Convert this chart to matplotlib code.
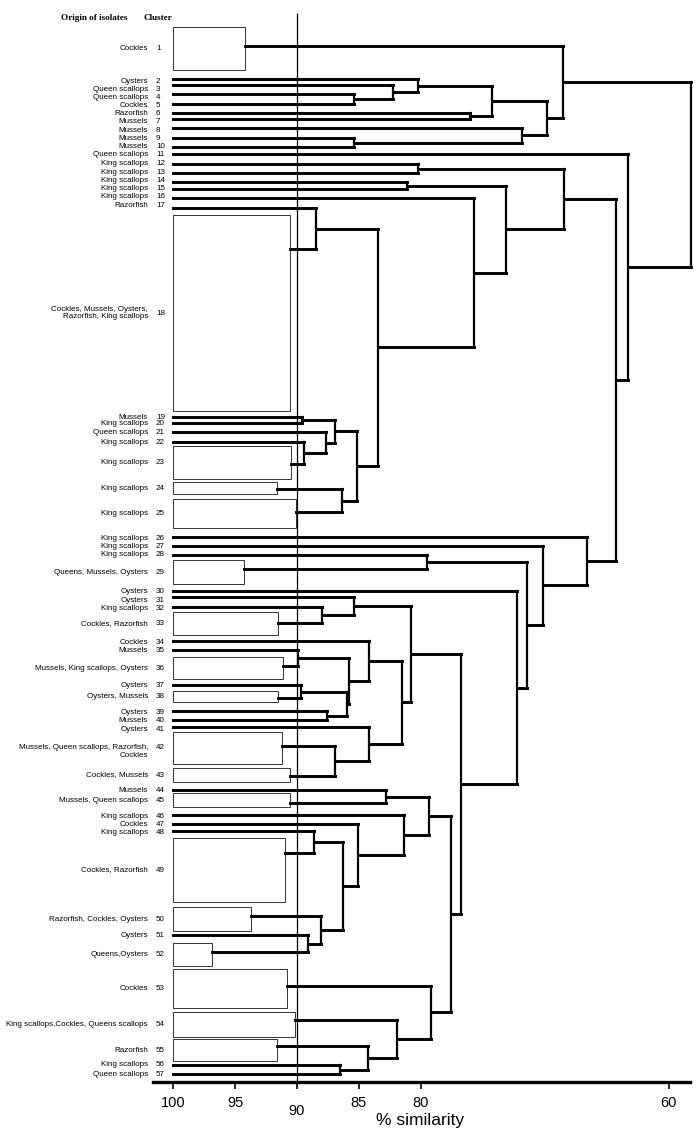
import matplotlib
matplotlib.use("Agg")
import matplotlib.pyplot as plt
from matplotlib.patches import Rectangle
import matplotlib.transforms as mtransforms

plt.rcParams['font.family'] = ['Liberation Sans', 'DejaVu Sans']

# -----------------------------
# Datos: clusters (hojas del dendrograma)
# -----------------------------
cluster_ids = list(range(1, 58))
origins = [
    "Cockles", "Oysters", "Queen scallops", "Queen scallops", "Cockles", "Razorfish",
    "Mussels", "Mussels", "Mussels", "Mussels", "Queen scallops", "King scallops",
    "King scallops", "King scallops", "King scallops", "King scallops", "Razorfish",
    "Cockles, Mussels, Oysters,\nRazorfish, King scallops",
    "Mussels", "King scallops", "Queen scallops", "King scallops", "King scallops",
    "King scallops", "King scallops", "King scallops", "King scallops", "King scallops",
    "Queens, Mussels, Oysters", "Oysters", "Oysters", "King scallops", "Cockles, Razorfish",
    "Cockles", "Mussels", "Mussels, King scallops, Oysters", "Oysters", "Oysters, Mussels",
    "Oysters", "Mussels", "Oysters", "Mussels, Queen scallops, Razorfish,\nCockles",
    "Cockles, Mussels", "Mussels", "Mussels, Queen scallops", "King scallops", "Cockles",
    "King scallops", "Cockles, Razorfish", "Razorfish, Cockles, Oysters", "Oysters",
    "Queens,Oysters", "Cockles", "King scallops,Cockles, Queens scallops", "Razorfish",
    "King scallops", "Queen scallops",
]

# % similitud interna de los clusters con varios aislados (cajas)
box_similarity = {
    1: 94.2, 18: 90.6, 23: 90.5, 24: 91.6, 25: 90.1, 29: 94.25, 33: 91.5, 36: 91.15,
    38: 91.5, 42: 91.2, 43: 90.6, 45: 90.6, 49: 90.95, 50: 93.75, 52: 96.9, 53: 90.8,
    54: 90.15, 55: 91.6,
}

# Uniones (nodo nuevo, hijo a, hijo b, % similitud)
merges = [
    ("n4_5", 4, 5, 85.4),
    ("n3_5", 3, "n4_5", 82.25),
    ("n2_5", 2, "n3_5", 80.2),
    ("n6_7", 6, 7, 76.05),
    ("n2_7", "n2_5", "n6_7", 74.25),
    ("n9_10", 9, 10, 85.4),
    ("n8_10", 8, "n9_10", 71.8),
    ("n2_10", "n2_7", "n8_10", 69.85),
    ("n1_10", 1, "n2_10", 68.55),
    ("n12_13", 12, 13, 80.2),
    ("n14_15", 14, 15, 81.15),
    ("n17_18", 17, 18, 88.5),
    ("n19_20", 19, 20, 89.6),
    ("n22_23", 22, 23, 89.4),
    ("n21_23", 21, "n22_23", 87.7),
    ("n19_23", "n19_20", "n21_23", 86.9),
    ("n24_25", 24, 25, 86.35),
    ("n19_25", "n19_23", "n24_25", 85.15),
    ("n17_25", "n17_18", "n19_25", 83.45),
    ("n16_25", 16, "n17_25", 75.75),
    ("n14_25", "n14_15", "n16_25", 73.15),
    ("n12_25", "n12_13", "n14_25", 68.45),
    ("n28_29", 28, 29, 79.5),
    ("n32_33", 32, 33, 88.0),
    ("n31_33", 31, "n32_33", 85.4),
    ("n35_36", 35, 36, 89.9),
    ("n37_38", 37, 38, 89.65),
    ("n39_40", 39, 40, 87.6),
    ("n37_40", "n37_38", "n39_40", 86.0),
    ("n35_40", "n35_36", "n37_40", 85.8),
    ("n34_40", 34, "n35_40", 84.2),
    ("n42_43", 42, 43, 86.95),
    ("n41_43", 41, "n42_43", 84.15),
    ("n34_43", "n34_40", "n41_43", 81.55),
    ("n31_43", "n31_33", "n34_43", 80.8),
    ("n44_45", 44, 45, 82.85),
    ("n48_49", 48, 49, 88.6),
    ("n51_52", 51, 52, 89.1),
    ("n50_52", 50, "n51_52", 88.05),
    ("n48_52", "n48_49", "n50_52", 86.25),
    ("n47_52", 47, "n48_52", 85.1),
    ("n46_52", 46, "n47_52", 81.35),
    ("n44_52", "n44_45", "n46_52", 79.35),
    ("n56_57", 56, 57, 86.5),
    ("n55_57", 55, "n56_57", 84.3),
    ("n54_57", 54, "n55_57", 81.95),
    ("n53_57", 53, "n54_57", 79.2),
    ("n44_57", "n44_52", "n53_57", 77.6),
    ("n31_57", "n31_43", "n44_57", 76.75),
    ("n30_57", 30, "n31_57", 72.25),
    ("n28_57", "n28_29", "n30_57", 71.45),
    ("n27_57", 27, "n28_57", 70.1),
    ("n26_57", 26, "n27_57", 66.55),
    ("n12_57", "n12_25", "n26_57", 64.25),
    ("n11_57", 11, "n12_57", 63.3),
    ("root", "n1_10", "n11_57", 58.15),
]

similarity_ticks = [100, 95, 90, 85, 80, 60]

# -----------------------------
# Layout vertical (filas de la figura, en pixeles)
# -----------------------------
row_y = {
    2: 79, 3: 85, 4: 94, 5: 104, 6: 113, 7: 119, 8: 128, 9: 138, 10: 147, 11: 154,
    12: 164, 13: 173, 14: 182, 15: 189, 16: 198, 17: 208, 19: 417, 20: 423, 21: 432,
    22: 442, 26: 537, 27: 546, 28: 555, 30: 591, 31: 597, 32: 607, 34: 641, 35: 650,
    37: 685, 39: 711, 40: 720, 41: 727, 44: 790, 46: 815, 47: 824, 48: 831, 51: 935,
    56: 1065, 57: 1074,
}
text_y = {
    2: 81, 3: 89.5, 4: 97.5, 5: 105.5, 6: 113.5, 7: 121.5, 8: 130, 9: 138, 10: 146.5,
    11: 154.5, 12: 163.5, 13: 172, 14: 180.5, 15: 188, 16: 196.5, 17: 205,
    26: 538, 27: 546, 28: 554.5, 30: 591.5, 31: 600, 32: 608.5, 34: 642, 35: 650.5,
    39: 712, 40: 720.5, 41: 729, 46: 816.5, 47: 824.5, 48: 832.5,
}
box_span = {
    1: (27, 70), 18: (215, 411), 23: (446, 479), 24: (482, 494), 25: (499, 528),
    29: (560, 584), 33: (612, 635), 36: (657, 679), 38: (691, 702), 42: (732, 764),
    43: (768, 782), 45: (793, 807), 49: (838, 902), 50: (907, 931), 52: (943, 966),
    53: (969, 1008), 54: (1012, 1037), 55: (1039, 1061),
}
box_link = {
    1: 46, 18: 249, 23: 464, 24: 489, 25: 512, 29: 569, 33: 623, 36: 666, 38: 698,
    42: 746, 43: 776, 45: 803, 49: 853, 50: 916, 52: 952, 53: 986, 54: 1020, 55: 1046,
}

# -----------------------------
# Figura
# -----------------------------
fig = plt.figure(figsize=(6.98, 11.38), dpi=100)
ax = fig.add_axes([0, 0, 1, 1])
ax.set_xlim(113.99, 57.62)
ax.set_ylim(1138, 0)

H_LW = 2.1
V_LW = 1.6
NAME_X = 102.03
NUM_X = 101.39

pos = {}
for cid, origin in zip(cluster_ids, origins):
    if cid in box_similarity:
        top, bot = box_span[cid]
        s = box_similarity[cid]
        ax.add_patch(Rectangle((s, top), 100 - s, bot - top, fill=False,
                               lw=0.7, ec="#333333"))
        pos[cid] = (s, box_link[cid])
        ly = (top + bot) / 2
    else:
        pos[cid] = (100, row_y[cid])
        ly = text_y.get(cid, row_y[cid])
    name_y = ly + 3.5 if cid == 42 else ly
    num_y = ly - 1 if cid == 42 else ly
    ax.text(NAME_X, name_y, origin, ha="right", va="center", fontsize=5.8,
            multialignment="right", linespacing=1.15)
    ax.text(NUM_X, num_y, str(cid), ha="left", va="center", fontsize=5.8)

for name, a, b, sim in merges:
    xa, ya = pos[a]
    xb, yb = pos[b]
    ax.plot([xa, sim], [ya, ya], color="black", lw=H_LW, solid_capstyle="projecting")
    ax.plot([xb, sim], [yb, yb], color="black", lw=H_LW, solid_capstyle="projecting")
    ax.plot([sim, sim], [ya, yb], color="black", lw=V_LW, solid_capstyle="projecting")
    pos[name] = (sim, (ya + yb) / 2)

# linea de referencia al 90 %
ax.vlines(90, 13, 1082, color="black", lw=0.9)

# encabezados
ax.text(103.73, 18, "Origin of isolates", ha="right", va="center", fontsize=6.6,
        fontweight="bold", family=["Liberation Serif", "DejaVu Serif"])
ax.text(102.44, 18, "Cluster", ha="left", va="center", fontsize=6.6,
        fontweight="bold", family=["Liberation Serif", "DejaVu Serif"])

# eje de similitud
for side in ["top", "left", "right"]:
    ax.spines[side].set_visible(False)
ax.spines["bottom"].set_position(("data", 1082))
ax.spines["bottom"].set_bounds(101.6, 58.3)
ax.spines["bottom"].set_linewidth(2.4)
ax.set_yticks([])
ax.set_xticks(similarity_ticks)
ax.set_xticklabels([str(t) for t in similarity_ticks])
ax.tick_params(axis="x", direction="out", length=5, width=1.2, pad=5, labelsize=10.5)
ax.set_xlabel("% similarity", fontsize=12.5)
ax.xaxis.set_label_coords(420 / 698, 1 - 1113 / 1138)

for lab in ax.get_xticklabels():
    if lab.get_text() == "90":
        lab.set_transform(lab.get_transform() +
                          mtransforms.ScaledTranslation(0, -0.08, fig.dpi_scale_trans))

fig.savefig("out.png", dpi=100)
